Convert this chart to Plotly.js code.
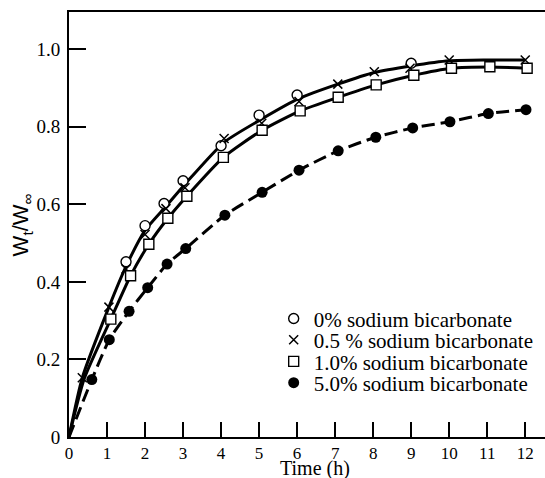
<!DOCTYPE html>
<html>
<head>
<meta charset="utf-8">
<script src="https://cdn.plot.ly/plotly-3.0.1.min.js"></script>
<style>
  html, body { margin: 0; padding: 0; background: #fff; }
  #chart { width: 545px; height: 478px; }
</style>
</head>
<body>
<div id="chart"></div>
<script>
// Fractional release Wt/W∞ versus time for four sodium bicarbonate levels.

// 0 % sodium bicarbonate (open circles)
const time0 = [1.5, 2, 2.5, 3, 4, 5, 6, 9];
const ratio0 = [0.452, 0.545, 0.602, 0.661, 0.751, 0.830, 0.882, 0.964];

// 0.5 % sodium bicarbonate (crosses)
const time05 = [0.35, 1.05, 1.5, 2, 2.55, 3.05, 4.08, 5.07, 6.05, 7.07, 8.03, 8.97, 10, 12];
const ratio05 = [0.153, 0.335, 0.433, 0.522, 0.589, 0.643, 0.770, 0.809, 0.865, 0.910, 0.942, 0.951, 0.972, 0.972];

// 1.0 % sodium bicarbonate (open squares)
const time10 = [1.1, 1.62, 2.1, 2.6, 3.1, 4.06, 5.08, 6.08, 7.08, 8.08, 9.07, 10.06, 11.07, 12.05];
const ratio10 = [0.304, 0.416, 0.497, 0.564, 0.621, 0.721, 0.791, 0.841, 0.876, 0.908, 0.933, 0.951, 0.955, 0.951];

// 5.0 % sodium bicarbonate (filled circles)
const time50 = [0.6, 1.06, 1.58, 2.07, 2.58, 3.07, 4.1, 5.08, 6.05, 7.08, 8.07, 9.04, 10.02, 11.03, 12.02];
const ratio50 = [0.148, 0.251, 0.324, 0.385, 0.446, 0.486, 0.572, 0.631, 0.688, 0.738, 0.773, 0.797, 0.813, 0.834, 0.844];

// Fitted release curves
const fitTimeTop = [0, 0.35, 1.05, 1.5, 2, 2.55, 3.05, 4.08, 5.07, 6.05, 7.07, 8.03, 9, 10, 11, 12];
const fitTop = [0, 0.153, 0.335, 0.44, 0.533, 0.595, 0.652, 0.760, 0.820, 0.873, 0.910, 0.940, 0.957, 0.970, 0.972, 0.972];
const fitTimeMid = [0, 0.4, 1.1, 1.62, 2.1, 2.6, 3.1, 4.06, 5.08, 6.08, 7.08, 8.08, 9.07, 10.06, 11.07, 12.05];
const fitMid = [0, 0.15, 0.304, 0.416, 0.497, 0.564, 0.621, 0.721, 0.791, 0.841, 0.876, 0.908, 0.933, 0.951, 0.954, 0.951];

// Axis ticks
const xTicks = [0, 1, 2, 3, 4, 5, 6, 7, 8, 9, 10, 11, 12];
const yTicks = [0, 0.2, 0.4, 0.6, 0.8, 1.0];
const yTickText = ['0', '0.2', '0.4', '0.6', '0.8', '1.0'];

const seriesNames = [
  '0% sodium bicarbonate',
  '0.5 % sodium bicarbonate',
  '1.0% sodium bicarbonate',
  '5.0% sodium bicarbonate'
];

const serif = '"Liberation Serif", "DejaVu Serif", serif';
const sans = '"Liberation Sans", Arial, sans-serif';

const traces = [
  {
    x: fitTimeTop, y: fitTop, mode: 'lines', showlegend: false, hoverinfo: 'skip',
    line: { color: '#000', width: 3, shape: 'spline', smoothing: 0.6 }
  },
  {
    x: fitTimeMid, y: fitMid, mode: 'lines', showlegend: false, hoverinfo: 'skip',
    line: { color: '#000', width: 3, shape: 'spline', smoothing: 0.6 }
  },
  {
    x: [0].concat(time50), y: [0].concat(ratio50), mode: 'lines', showlegend: false, hoverinfo: 'skip',
    line: { color: '#000', width: 3, dash: '13px,6px', shape: 'spline', smoothing: 0.6 }
  },
  {
    x: time0, y: ratio0, mode: 'markers', name: seriesNames[0], legend: 'legend',
    marker: { symbol: 'circle', size: 10, color: '#fff', line: { color: '#000', width: 1.4 } }
  },
  {
    x: time05, y: ratio05, mode: 'markers', name: seriesNames[1], legend: 'legend2',
    marker: { symbol: 'x-thin', size: 9, color: '#000', line: { color: '#000', width: 1.5 } }
  },
  {
    x: time10, y: ratio10, mode: 'markers', name: seriesNames[2], legend: 'legend3',
    marker: { symbol: 'square', size: 10, color: '#fff', line: { color: '#000', width: 1.4 } }
  },
  {
    x: time50, y: ratio50, mode: 'markers', name: seriesNames[3], legend: 'legend4',
    marker: { symbol: 'circle', size: 11, color: '#000', line: { width: 0 } }
  }
];

function legendAt(yPaper) {
  return {
    x: 0.43, y: yPaper, xanchor: 'left', yanchor: 'middle',
    bgcolor: 'rgba(0,0,0,0)', borderwidth: 0,
    font: { family: serif, size: 21, color: '#000' }
  };
}

const layout = {
  width: 545, height: 478,
  margin: { l: 69, r: 0, t: 12, b: 41 },
  paper_bgcolor: '#fff', plot_bgcolor: '#fff',
  font: { family: serif, color: '#000' },
  showlegend: true,
  legend: legendAt(0.278),
  legend2: legendAt(0.228),
  legend3: legendAt(0.177),
  legend4: legendAt(0.127),
  xaxis: {
    range: [0, 12.52],
    tickvals: xTicks,
    ticks: 'inside', ticklen: 15, tickwidth: 2, tickcolor: '#000',
    showline: true, linewidth: 2, linecolor: '#000', mirror: true,
    showgrid: false, zeroline: false,
    tickfont: { family: serif, size: 17, color: '#000' }
  },
  yaxis: {
    range: [0, 1.096],
    tickvals: yTicks, ticktext: yTickText,
    ticks: 'inside', ticklen: 17, tickwidth: 2, tickcolor: '#000',
    showline: true, linewidth: 2, linecolor: '#000', mirror: false,
    showgrid: false, zeroline: false,
    ticklabelstandoff: 3,
    tickfont: { family: serif, size: 19, color: '#000' }
  },
  annotations: [
    {
      text: 'Time (h)', xref: 'paper', yref: 'paper', x: 0.517, y: -0.075,
      xanchor: 'center', yanchor: 'middle', showarrow: false,
      font: { family: serif, size: 20, color: '#000' }
    },
    {
      text: 'W<sub>t</sub>/W<sub>∞</sub>', xref: 'paper', yref: 'paper', x: -0.099, y: 0.5,
      xanchor: 'center', yanchor: 'middle', showarrow: false, textangle: -90,
      font: { family: sans, size: 22, color: '#000' }
    }
  ]
};

Plotly.newPlot('chart', traces, layout, { displayModeBar: false, staticPlot: true });
</script>
</body>
</html>
